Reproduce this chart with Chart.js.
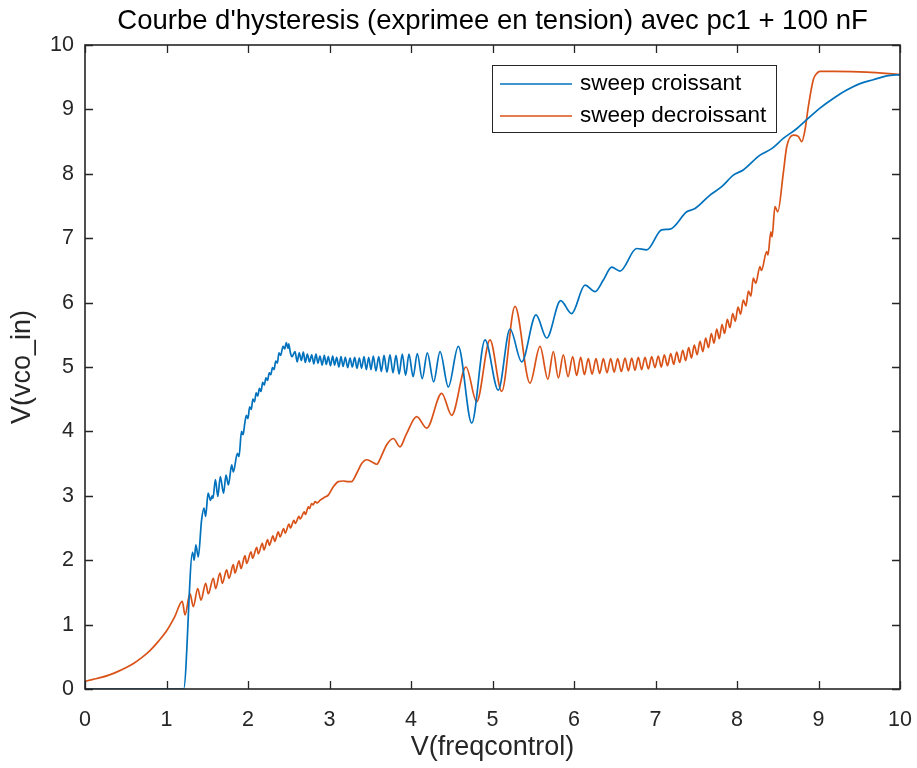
<!DOCTYPE html>
<html>
<head>
<meta charset="utf-8">
<script src="https://cdn.jsdelivr.net/npm/chart.js@4.4.1/dist/chart.umd.min.js"></script>
<style>
  html, body { margin: 0; padding: 0; background: #ffffff; }
  #wrap { width: 917px; height: 768px; position: relative; }
</style>
</head>
<body>
<div id="wrap"><canvas id="c" width="917" height="768"></canvas></div>
<script>
// ---------------- data ----------------
const chartTitle = "Courbe d'hysteresis (exprimee en tension) avec pc1 + 100 nF";
const xTitle = "V(freqcontrol)";
const yTitle = "V(vco_in)";
const seriesNames = ["sweep croissant", "sweep decroissant"];
const xTickValues = [0, 1, 2, 3, 4, 5, 6, 7, 8, 9, 10];
const yTickValues = [0, 1, 2, 3, 4, 5, 6, 7, 8, 9, 10];

// sweep croissant (blue)
const upX = [0, 1.21, 1.32, 1.34, 1.36, 1.39, 1.43, 1.46, 1.48, 1.51, 1.54, 1.56, 1.57, 1.60, 1.63, 1.66, 1.70, 1.73, 1.76, 1.80, 1.82, 1.87, 1.89, 1.92, 1.94, 1.96, 1.98, 2.00, 2.02, 2.04, 2.06, 2.08, 2.10, 2.12, 2.14, 2.16, 2.18, 2.20, 2.22, 2.24, 2.26, 2.28, 2.30, 2.32, 2.34, 2.36, 2.38, 2.40, 2.43, 2.45, 2.47, 2.49, 2.50, 2.52, 2.54,
  2.577, 2.603, 2.629, 2.654, 2.679, 2.703, 2.728, 2.755, 2.782, 2.808, 2.834, 2.858, 2.883, 2.910, 2.936, 2.960, 2.985, 3.012, 3.039, 3.063, 3.088, 3.115, 3.141, 3.167, 3.194, 3.223, 3.252, 3.280, 3.309, 3.337, 3.366, 3.394, 3.423, 3.452, 3.481, 3.509, 3.537, 3.570, 3.604, 3.636, 3.669, 3.705, 3.742, 3.779, 3.816, 3.854, 3.893, 3.934, 3.975, 4.026, 4.077, 4.138, 4.200, 4.278, 4.356, 4.458, 4.580, 4.745, 4.908, 5.071, 5.215, 5.358, 5.534, 5.665, 5.836, 5.971, 6.135, 6.258, 6.36, 6.463, 6.564, 6.769, 6.892, 7.076, 7.178, 7.383, 7.485, 7.669, 7.812, 7.955, 8.077, 8.282, 8.426, 8.568, 8.732, 8.855, 9.018, 9.181, 9.346, 9.509, 9.672, 9.837, 10.0];
const upY = [0, 0, 2.12, 2.00, 2.24, 2.05, 2.62, 2.81, 2.68, 3.04, 2.93, 3.00, 2.96, 3.25, 2.99, 3.30, 3.04, 3.32, 3.17, 3.48, 3.37, 3.66, 3.61, 4.00, 3.95, 4.12, 4.25, 4.20, 4.38, 4.34, 4.50, 4.46, 4.60, 4.55, 4.67, 4.62, 4.76, 4.72, 4.83, 4.79, 4.91, 4.88, 4.99, 4.96, 5.09, 5.06, 5.22, 5.18, 5.32, 5.28, 5.38, 5.29, 5.36, 5.22, 5.16,
  5.24, 5.08, 5.22, 5.10, 5.23, 5.07, 5.20, 5.08, 5.19, 5.05, 5.20, 5.06, 5.17, 5.03, 5.18, 5.04, 5.16, 5.02, 5.17, 5.03, 5.15, 5.00, 5.16, 5.01, 5.15, 4.99, 5.14, 5.00, 5.15, 4.98, 5.14, 4.98, 5.16, 4.96, 5.15, 4.96, 5.17, 4.94, 5.16, 4.93, 5.18, 4.92, 5.19, 4.91, 5.18, 4.89, 5.20, 4.87, 5.20, 4.85, 5.21, 4.82, 5.22, 4.77, 5.24, 4.69, 5.32, 4.13, 5.42, 4.64, 5.59, 5.08, 5.81, 5.45, 6.03, 5.83, 6.27, 6.17, 6.35, 6.55, 6.49, 6.84, 6.82, 7.13, 7.14, 7.41, 7.46, 7.67, 7.80, 7.98, 8.06, 8.29, 8.39, 8.55, 8.70, 8.84, 9.02, 9.17, 9.30, 9.40, 9.46, 9.52, 9.54];

// sweep decroissant (orange)
const downX = [0, 0.1, 0.2, 0.3, 0.4, 0.5, 0.6, 0.7, 0.8, 0.9, 1.0, 1.1, 1.194,
  1.227, 1.288, 1.329, 1.383, 1.423, 1.481, 1.513, 1.574, 1.603, 1.656, 1.685, 1.738, 1.767, 1.820, 1.840, 1.890, 1.914, 1.963, 1.984, 2.037, 2.057, 2.107, 2.127, 2.176, 2.196, 2.241, 2.262, 2.307, 2.327, 2.372, 2.393, 2.438, 2.455, 2.503, 2.52, 2.564, 2.58, 2.626, 2.64, 2.691, 2.705, 2.740, 2.755, 2.781, 2.80, 2.822, 2.85, 2.883, 2.945, 2.985, 3.047, 3.109, 3.17, 3.23, 3.27, 3.334, 3.395, 3.456, 3.517, 3.58, 3.62, 3.70, 3.783, 3.865, 3.94, 4.07, 4.193, 4.377, 4.499, 4.675, 4.806, 4.969, 5.113, 5.276, 5.46, 5.583,
  5.68, 5.746, 5.808, 5.869, 5.927, 5.984, 6.033, 6.082, 6.128, 6.175, 6.222, 6.270, 6.315, 6.360, 6.405, 6.450, 6.493, 6.536, 6.581, 6.626, 6.667, 6.708, 6.748, 6.789, 6.830, 6.871, 6.912, 6.953, 6.993, 7.034, 7.071, 7.108, 7.147, 7.187, 7.223, 7.260, 7.297, 7.334, 7.370, 7.407, 7.441, 7.476, 7.511, 7.546, 7.581, 7.616, 7.650, 7.685, 7.718, 7.751, 7.783, 7.816, 7.848, 7.881, 7.914, 7.947, 7.979, 8.012, 8.044, 8.077, 8.11, 8.14, 8.17, 8.20, 8.23, 8.282, 8.30, 8.364, 8.38, 8.415, 8.43, 8.466, 8.50, 8.568, 8.610, 8.691, 8.752, 8.794, 8.834, 8.875, 8.936, 8.98, 9.018, 9.181, 9.591, 10.0];
const downY = [0.12, 0.15, 0.18, 0.22, 0.27, 0.33, 0.40, 0.49, 0.60, 0.74, 0.90, 1.12, 1.36,
  1.15, 1.48, 1.28, 1.56, 1.38, 1.64, 1.48, 1.72, 1.56, 1.80, 1.64, 1.85, 1.72, 1.93, 1.80, 1.99, 1.87, 2.07, 1.95, 2.13, 2.03, 2.20, 2.10, 2.26, 2.16, 2.32, 2.23, 2.38, 2.29, 2.44, 2.36, 2.49, 2.42, 2.56, 2.50, 2.62, 2.57, 2.68, 2.64, 2.75, 2.71, 2.83, 2.80, 2.88, 2.86, 2.91, 2.89, 2.93, 2.98, 3.01, 3.14, 3.22, 3.23, 3.22, 3.22, 3.35, 3.50, 3.56, 3.53, 3.49, 3.57, 3.79, 3.89, 3.76, 3.95, 4.23, 4.05, 4.59, 4.25, 5.00, 4.46, 5.42, 4.62, 5.94, 4.75, 5.32,
  4.81, 5.24, 4.83, 5.19, 4.85, 5.16, 4.87, 5.15, 4.88, 5.13, 4.89, 5.13, 4.90, 5.13, 4.91, 5.13, 4.92, 5.13, 4.93, 5.14, 4.94, 5.14, 4.95, 5.15, 4.96, 5.15, 4.97, 5.16, 4.99, 5.17, 5.00, 5.19, 5.02, 5.21, 5.04, 5.23, 5.07, 5.26, 5.10, 5.30, 5.14, 5.34, 5.19, 5.40, 5.24, 5.45, 5.30, 5.52, 5.37, 5.59, 5.44, 5.66, 5.52, 5.74, 5.61, 5.83, 5.71, 5.93, 5.82, 6.04, 5.95, 6.18, 6.10, 6.38, 6.30, 6.56, 6.50, 6.79, 6.74, 7.10, 7.02, 7.49, 7.41, 8.01, 8.42, 8.60, 8.58, 8.50, 8.68, 9.04, 9.46, 9.56, 9.59, 9.59, 9.58, 9.54];

// ---------------- styles ----------------
const BLUE = '#0072BD';
const ORANGE = '#D95319';
const AX = '#262626';
const FONT = '"Liberation Sans", Arial, Helvetica, sans-serif';

const toPts = (xs, ys) => xs.map((v, i) => ({ x: v, y: ys[i] }));

const framePlugin = {
  id: 'frame',
  afterDraw(chart) {
    const { ctx, chartArea: a, scales } = chart;
    const xs = scales.x, ys = scales.y;
    ctx.save();
    // box
    ctx.strokeStyle = AX;
    ctx.lineWidth = 1.6;
    ctx.strokeRect(a.left, a.top, a.right - a.left, a.bottom - a.top);
    // inward ticks on all four sides
    const tl = 8;
    ctx.beginPath();
    xTickValues.forEach(v => {
      const p = Math.round(xs.getPixelForValue(v)) + 0.5;
      ctx.moveTo(p, a.bottom); ctx.lineTo(p, a.bottom - tl);
      ctx.moveTo(p, a.top); ctx.lineTo(p, a.top + tl);
    });
    yTickValues.forEach(v => {
      const p = Math.round(ys.getPixelForValue(v)) + 0.5;
      ctx.moveTo(a.left, p); ctx.lineTo(a.left + tl, p);
      ctx.moveTo(a.right, p); ctx.lineTo(a.right - tl, p);
    });
    ctx.lineWidth = 1.3;
    ctx.stroke();

    // title
    ctx.fillStyle = '#000000';
    ctx.font = '27.5px ' + FONT;
    ctx.textAlign = 'center';
    ctx.textBaseline = 'middle';
    ctx.fillText(chartTitle, (a.left + a.right) / 2, 21);

    // axis titles
    ctx.fillStyle = AX;
    ctx.font = '27px ' + FONT;
    ctx.fillText(xTitle, (a.left + a.right) / 2, 748);
    ctx.save();
    ctx.translate(23, (a.top + a.bottom) / 2);
    ctx.rotate(-Math.PI / 2);
    ctx.fillText(yTitle, 0, 0);
    ctx.restore();

    // legend box
    const lx = 492, ly = 65, lw = 284, lh = 67;
    ctx.fillStyle = '#ffffff';
    ctx.fillRect(lx, ly, lw, lh);
    ctx.strokeStyle = AX;
    ctx.lineWidth = 1;
    ctx.strokeRect(lx + 0.5, ly + 0.5, lw, lh);
    ctx.font = '22.5px ' + FONT;
    ctx.textAlign = 'left';
    ctx.textBaseline = 'middle';
    const rows = [ly + 19, ly + 51];
    chart.data.datasets.forEach((ds, i) => {
      ctx.strokeStyle = ds.borderColor;
      ctx.lineWidth = 1.6;
      ctx.beginPath();
      ctx.moveTo(lx + 8, rows[i]);
      ctx.lineTo(lx + 80, rows[i]);
      ctx.stroke();
      ctx.fillStyle = '#000000';
      ctx.fillText(ds.label, lx + 88, rows[i]);
    });
    ctx.restore();
  }
};

new Chart(document.getElementById('c'), {
  type: 'line',
  data: {
    datasets: [
      { label: seriesNames[0], data: toPts(upX, upY), borderColor: BLUE, backgroundColor: BLUE, borderWidth: 1.7, pointRadius: 0, cubicInterpolationMode: 'monotone', fill: false },
      { label: seriesNames[1], data: toPts(downX, downY), borderColor: ORANGE, backgroundColor: ORANGE, borderWidth: 1.7, pointRadius: 0, cubicInterpolationMode: 'monotone', fill: false }
    ]
  },
  options: {
    responsive: false,
    animation: false,
    parsing: false,
    layout: { padding: { left: 0, right: 17, top: 45, bottom: 0 } },
    plugins: { legend: { display: false }, title: { display: false }, tooltip: { enabled: false } },
    scales: {
      x: {
        type: 'linear', min: 0, max: 10,
        afterBuildTicks: s => { s.ticks = xTickValues.map(v => ({ value: v })); },
        afterFit: s => { s.height = 79; s.paddingLeft = 0; s.paddingRight = 0; },
        grid: { display: false, drawTicks: false },
        border: { display: false },
        ticks: { color: AX, font: { family: FONT, size: 21.5 }, padding: 18, maxRotation: 0, autoSkip: false }
      },
      y: {
        type: 'linear', min: 0, max: 10,
        afterBuildTicks: s => { s.ticks = yTickValues.map(v => ({ value: v })); },
        afterFit: s => { s.width = 85; s.paddingTop = 0; s.paddingBottom = 0; },
        grid: { display: false, drawTicks: false },
        border: { display: false },
        ticks: { color: AX, font: { family: FONT, size: 21.5 }, padding: 11, autoSkip: false }
      }
    }
  },
  plugins: [framePlugin]
});
</script>
</body>
</html>
